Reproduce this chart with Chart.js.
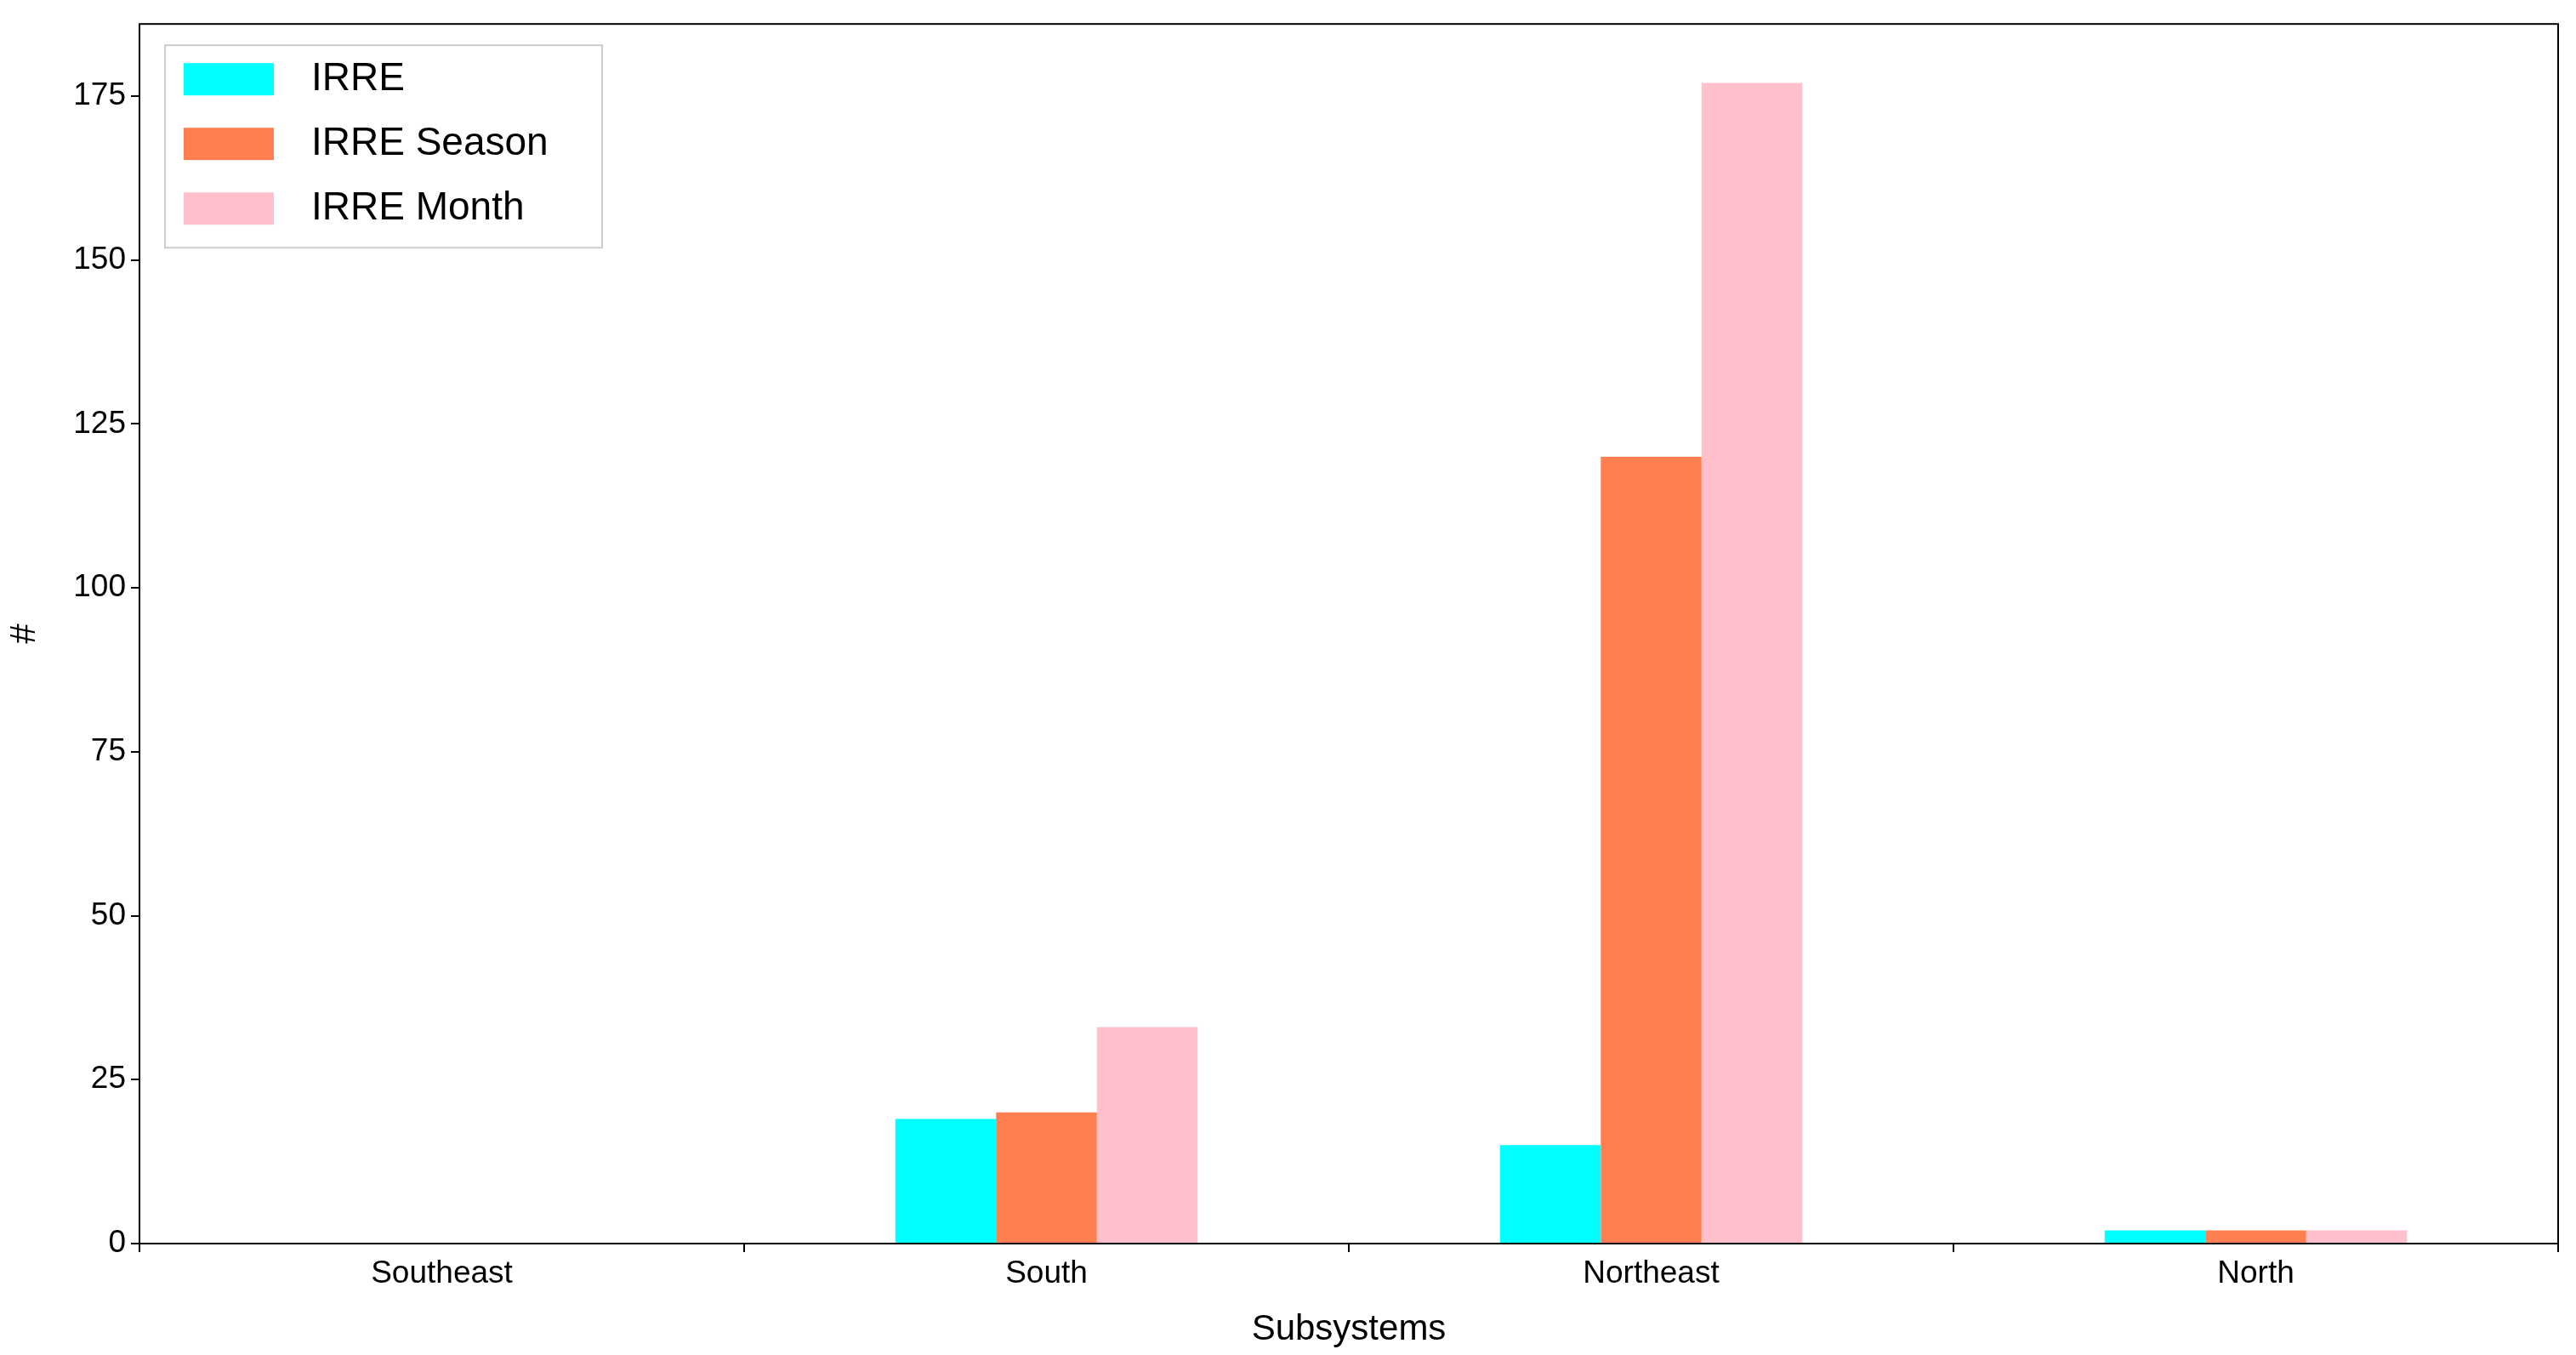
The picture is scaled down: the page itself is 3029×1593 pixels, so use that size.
<!DOCTYPE html>
<html><head><meta charset="utf-8">
<script src="https://cdn.jsdelivr.net/npm/chart.js@4/dist/chart.umd.min.js"></script>
<style>html,body{margin:0;padding:0;background:#fff}#c{display:block}</style>
</head><body>
<div style="width:3029px;height:1593px"><canvas id="c"></canvas></div>
<script>
const categories = ["Southeast","South","Northeast","North"];
const irre = [0,19,15,2];
const irreSeason = [0,20,120,2];
const irreMonth = [0,33,177,2];
const yTicks = [0,25,50,75,100,125,150,175];

const FONT = "Arial, 'Liberation Sans', sans-serif";
const frame = {
  id:'frame',
  afterDraw(chart){
    const {ctx, chartArea:a} = chart;
    ctx.save();
    ctx.strokeStyle='#000'; ctx.lineWidth=2;
    ctx.strokeRect(a.left,a.top,a.right-a.left,a.bottom-a.top);
    // legend
    const x0=a.left+30, y0=a.top+25, w=514, h=238;
    ctx.fillStyle='rgba(255,255,255,0.9)';
    ctx.fillRect(x0,y0,w,h);
    ctx.strokeStyle='#ccc'; ctx.lineWidth=2; ctx.strokeRect(x0,y0,w,h);
    ctx.font='46px '+FONT; ctx.textBaseline='middle';
    chart.data.datasets.forEach((d,i)=>{
      const cy=y0+40+i*76;
      ctx.fillStyle=d.backgroundColor;
      ctx.fillRect(x0+22,cy-19,106,38);
      ctx.fillStyle='#000';
      ctx.fillText(d.label,x0+172,cy);
    });
    ctx.restore();
  }
};
Chart.defaults.font.family = FONT;
new Chart(document.getElementById('c'),{
  type:'bar',
  data:{labels:categories,datasets:[
    {label:'IRRE',data:irre,backgroundColor:'#00FFFF'},
    {label:'IRRE Season',data:irreSeason,backgroundColor:'#FF7F50'},
    {label:'IRRE Month',data:irreMonth,backgroundColor:'#FFC0CB'}
  ]},
  options:{
    responsive:true,maintainAspectRatio:false,animation:false,
    layout:{padding:{top:23,right:21,left:0,bottom:0}},
    datasets:{bar:{categoryPercentage:0.5,barPercentage:1.0}},
    plugins:{legend:{display:false},tooltip:{enabled:false}},
    scales:{
      x:{
        grid:{display:true,drawOnChartArea:false,drawTicks:true,tickLength:10,color:'#000',lineWidth:2},
        border:{display:false},
        ticks:{color:'#000',font:{size:37},padding:4},
        title:{display:true,text:'Subsystems',color:'#000',font:{size:42},padding:{top:0}},
        afterFit(s){s.height=1593-1462;}
      },
      y:{
        min:0,max:186,
        afterBuildTicks(s){s.ticks=yTicks.map(v=>({value:v}));},
        grid:{display:true,drawOnChartArea:false,drawTicks:true,tickLength:10,color:'#000',lineWidth:2},
        border:{display:false},
        ticks:{color:'#000',font:{size:37},padding:6},
        title:{display:true,text:'#',color:'#000',font:{size:42},padding:{bottom:10}},
        afterFit(s){s.width=164;}
      }
    }
  },
  plugins:[frame]
});
</script>
</body></html>
